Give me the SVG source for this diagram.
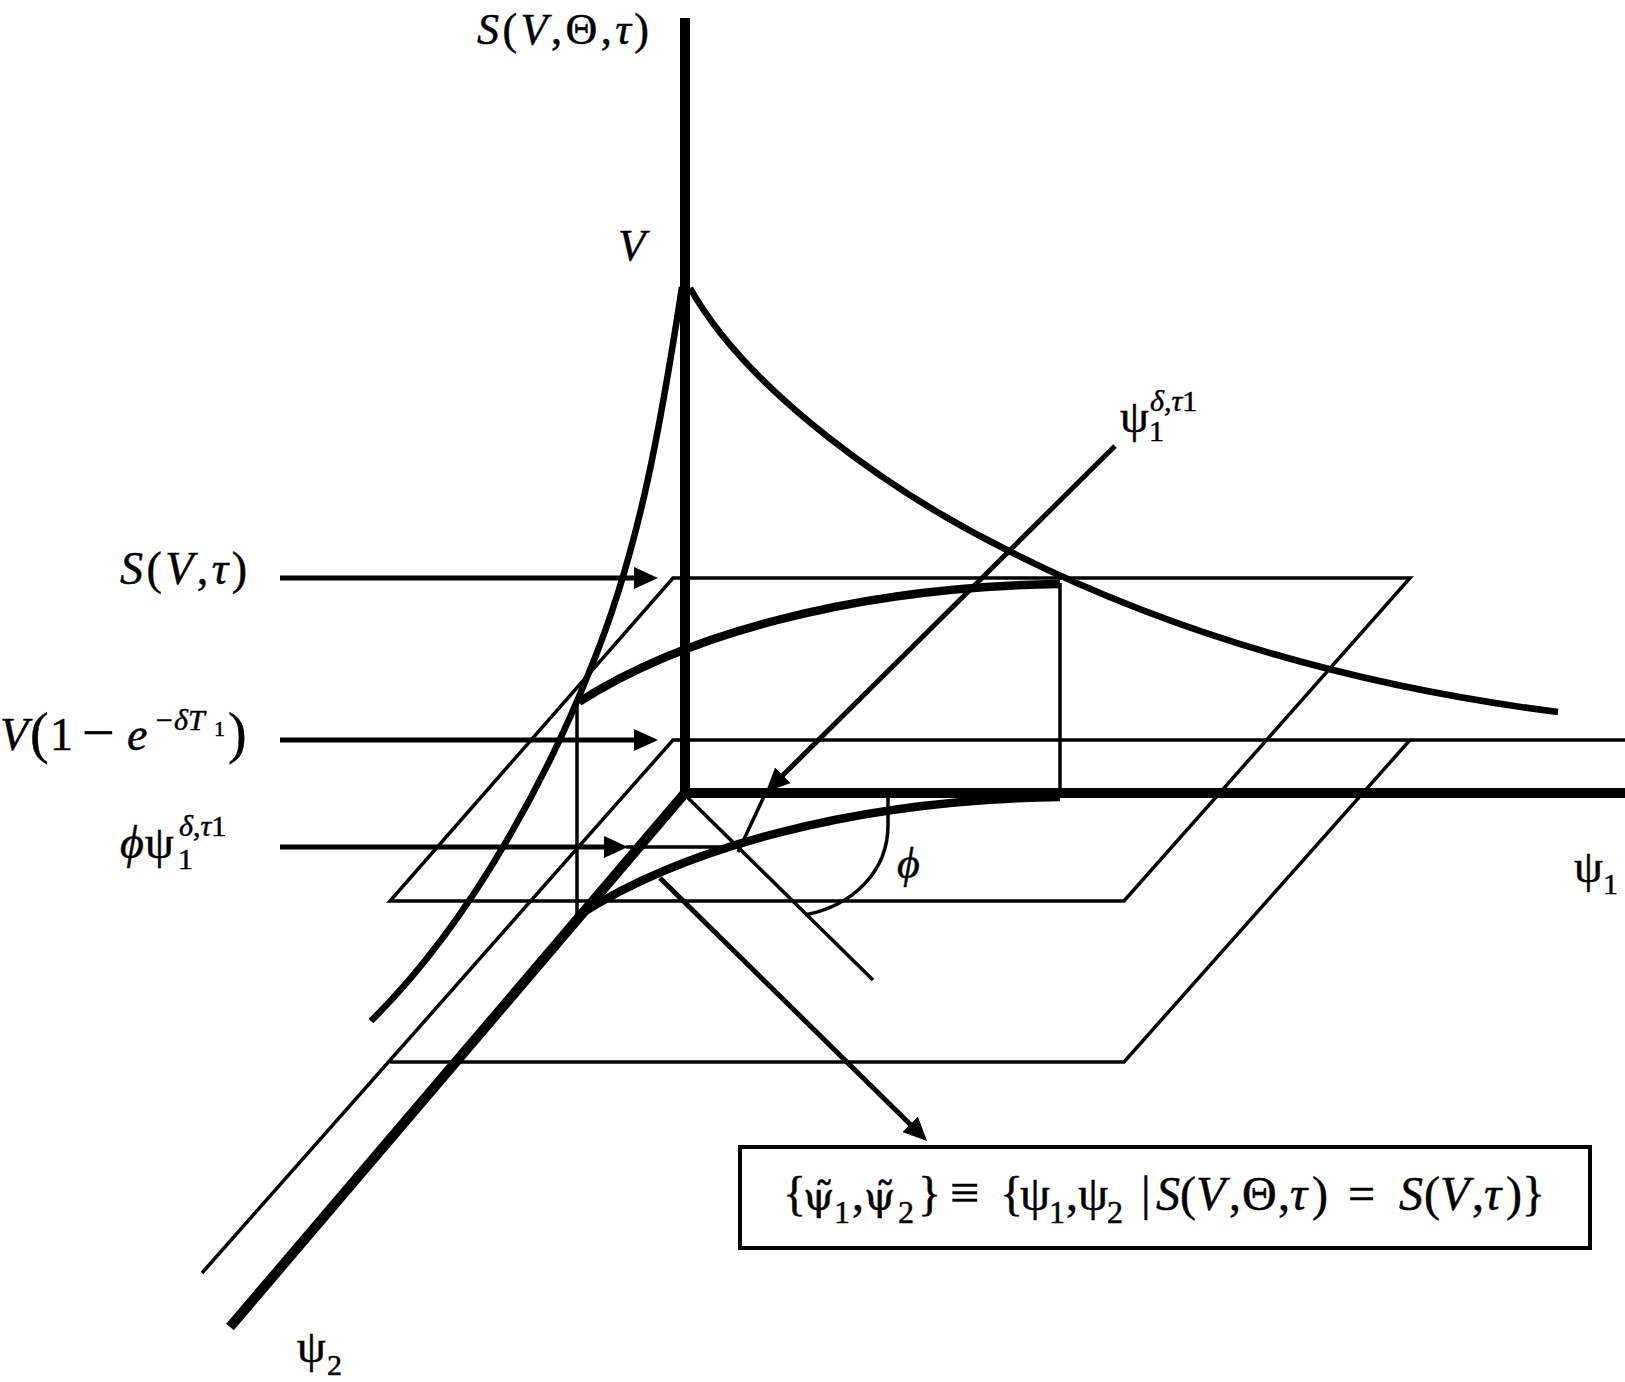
<svg xmlns="http://www.w3.org/2000/svg" width="1625" height="1382" viewBox="0 0 1625 1382">
<style>
.ax{stroke:#000;stroke-width:10;fill:none}
.thin{stroke:#000;stroke-width:3.5;fill:none}
.cur{stroke:#000;stroke-width:6.5;fill:none}
.lev{stroke:#000;stroke-width:8.5;fill:none}
.arr{stroke:#000;stroke-width:5;fill:none}
text{font-family:"Liberation Serif","DejaVu Serif",serif;fill:#000;stroke:#000;stroke-width:0.5}
.i{font-style:italic}
.dj{font-family:"DejaVu Serif",serif}
</style>
<defs>
<marker id="ah" markerUnits="userSpaceOnUse" markerWidth="24" markerHeight="24" viewBox="0 0 24 24" refX="14" refY="12" orient="auto">
<path d="M0 1 L24 12 L0 23 Z" fill="#000"/>
</marker>
</defs>
<rect width="1625" height="1382" fill="#fff"/>

<g id="planes">
<polygon class="thin" points="673,578 1410,578 1124,901 390,901"/>
<polyline class="thin" points="1625,740 673,740 202,1273"/>
<polyline class="thin" points="1410,740 1124,1062 390,1062"/>
</g>

<g id="axes">
<path class="ax" d="M685 18 V793 H1625"/>
<path class="ax" d="M685 793 L230 1327"/>
</g>

<g id="surface">
<path class="cur" d="M690 288 C750 395 900 497 1007 550 C1110 602 1290 678 1558 712"/>
<path class="cur" d="M682 287 C662 417 640 550 590 670 C552 765 478 915 371 1021"/>
<path class="lev" d="M579 702 C680 637 850 587 1060 584"/>
<path class="lev" d="M579 915 C680 850 850 800 1060 797"/>
<line class="thin" x1="1060" y1="583" x2="1060" y2="793"/>
<line class="thin" x1="577" y1="705" x2="577" y2="915"/>
<line class="thin" x1="687" y1="797" x2="873" y2="980"/>
<path class="thin" d="M888 797 L888 825 C888 870 855 905 805 915"/>
</g>

<g id="connectors">
<line class="arr" x1="280" y1="578" x2="648" y2="578" marker-end="url(#ah)"/>
<line class="arr" x1="280" y1="740" x2="648" y2="740" marker-end="url(#ah)"/>
<line class="arr" x1="280" y1="847" x2="618" y2="847" marker-end="url(#ah)"/>
<line class="thin" x1="626" y1="847" x2="740" y2="847"/>
<line class="arr" x1="1115" y1="446" x2="773" y2="785" marker-end="url(#ah)"/>
<line class="thin" x1="767" y1="790" x2="738" y2="852"/>
<line class="arr" x1="660" y1="878" x2="920" y2="1134" marker-end="url(#ah)"/>
</g>

<g id="label-S-V-Theta-tau">
<text x="477" y="44" font-size="44" textLength="172" lengthAdjust="spacing"><tspan class="i">S</tspan>(<tspan class="i">V</tspan>,Θ,<tspan class="i">τ</tspan>)</text>
</g>
<g id="label-V">
<text x="618" y="260" font-size="45" class="i">V</text>
</g>
<g id="label-S-V-tau">
<text x="120" y="584" font-size="46" textLength="127" lengthAdjust="spacing"><tspan class="i">S</tspan>(<tspan class="i">V</tspan>,<tspan class="i">τ</tspan>)</text>
</g>
<g id="label-V-1-e">
<text y="750" font-size="46"><tspan x="0" class="i">V</tspan><tspan x="30" y="752" font-size="56">(</tspan><tspan x="50" y="750">1</tspan><tspan x="82" y="752" font-size="58">−</tspan><tspan x="127" y="750" class="i">e</tspan><tspan x="156" y="730" font-size="30">−</tspan><tspan x="174" class="i" font-size="30">δT</tspan><tspan x="214" y="736" font-size="22">1</tspan><tspan x="228" y="752" font-size="56">)</tspan></text>
</g>
<g id="label-phi-psi">
<text y="858" font-size="46"><tspan x="120" class="i">ϕ</tspan><tspan x="145">ψ</tspan><tspan x="178" y="869" font-size="30">1</tspan><tspan x="179" y="836" font-size="30"><tspan class="i">δ</tspan>,<tspan class="i">τ</tspan>1</tspan></text>
</g>
<g id="label-psi1-delta">
<text y="432" font-size="46"><tspan x="1120">ψ</tspan><tspan x="1149" y="441" font-size="30">1</tspan><tspan x="1150" y="411" font-size="30"><tspan class="i">δ</tspan>,<tspan class="i">τ</tspan>1</tspan></text>
</g>
<g id="label-psi1">
<text y="882" font-size="46"><tspan x="1574">ψ</tspan><tspan x="1603" y="894" font-size="30">1</tspan></text>
</g>
<g id="label-psi2">
<text y="1362" font-size="46"><tspan x="297">ψ</tspan><tspan x="327" y="1375" font-size="30">2</tspan></text>
</g>
<g id="label-phi">
<text x="897" y="878" font-size="44" class="i">ϕ</text>
</g>

<g id="box">
<rect x="740" y="1147" width="850" height="101" fill="none" stroke="#000" stroke-width="4"/>
<text y="1210" font-size="48"><tspan x="783">{</tspan><tspan x="803" class="dj" font-size="40">ψ̃</tspan><tspan x="834" y="1223" font-size="32">1</tspan><tspan x="852" y="1210">,</tspan><tspan x="864" class="dj" font-size="40">ψ̃</tspan><tspan x="898" y="1223" font-size="32">2</tspan><tspan x="918" y="1210">}</tspan><tspan x="950" font-size="52">≡</tspan><tspan x="1000">{</tspan><tspan x="1020">ψ</tspan><tspan x="1049" y="1223" font-size="32">1</tspan><tspan x="1066" y="1210">,</tspan><tspan x="1078">ψ</tspan><tspan x="1107" y="1223" font-size="32">2</tspan><tspan x="1141" y="1210">|</tspan><tspan x="1156" class="i">S</tspan><tspan x="1180">(</tspan><tspan x="1196" class="i">V</tspan><tspan x="1229">,</tspan><tspan x="1242">Θ</tspan><tspan x="1278">,</tspan><tspan x="1290" class="i">τ</tspan><tspan x="1312">)</tspan><tspan x="1348">=</tspan><tspan x="1399" class="i">S</tspan><tspan x="1424">(</tspan><tspan x="1440" class="i">V</tspan><tspan x="1472">,</tspan><tspan x="1484" class="i">τ</tspan><tspan x="1506">)</tspan><tspan x="1522">}</tspan></text>
</g>
</svg>
